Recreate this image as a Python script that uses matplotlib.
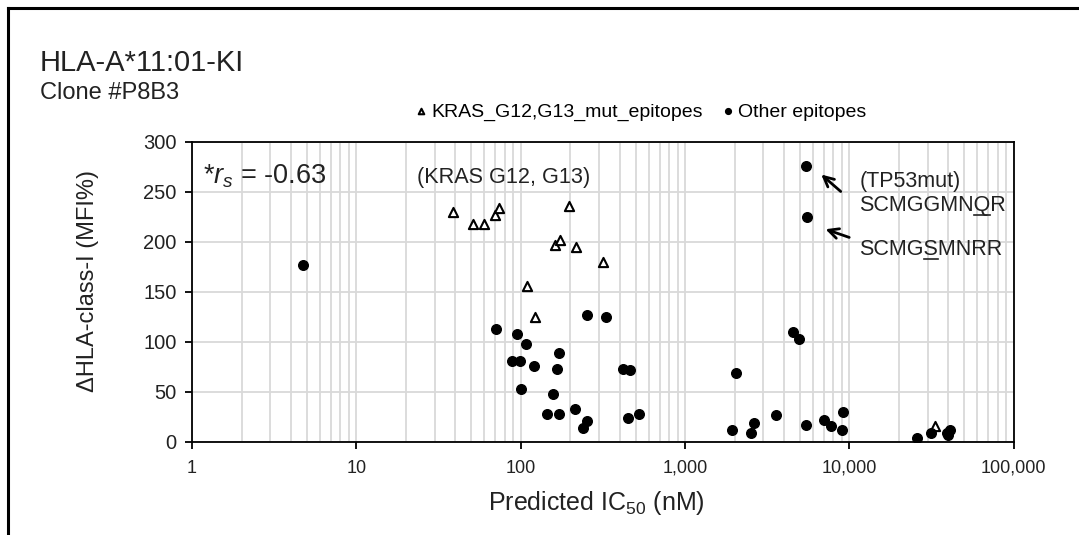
import matplotlib
matplotlib.use("Agg")
import matplotlib.pyplot as plt
import numpy as np
from matplotlib.lines import Line2D
from matplotlib.ticker import FuncFormatter, LogLocator, NullFormatter

# Font setup (Arial-like)
plt.rcParams['font.family'] = ['Liberation Sans', 'DejaVu Sans']
plt.rcParams['mathtext.fontset'] = 'custom'
plt.rcParams['mathtext.rm'] = 'Liberation Sans'
plt.rcParams['mathtext.it'] = 'Liberation Sans:italic'

# Data (IC50 in nM, delta HLA-class-I in MFI%)
kras_ic50 = [38.6, 51.5, 60.1, 69.8, 73.9, 109.4, 122.4, 162.7, 173.8, 198, 216.4, 316, 33270]
kras_mfi = [230, 218, 218, 227, 234, 156, 125, 197, 202, 236, 195, 180, 16]

other_ic50 = [4.76, 70.8, 94.7, 107.9, 89.1, 99.2, 120.7, 170.6, 167.2, 101, 156.8, 144.2,
              171.3, 214.3, 254.8, 238.8, 253.6, 331, 421.8, 463.4, 452.5, 527.6, 2047, 1936,
              2525, 2635, 3570, 4530, 4968, 5458, 7050, 7711, 9204, 8995, 5408, 5560,
              25960, 31330, 39200, 41080, 40000]
other_mfi = [177, 113, 108, 98, 81, 81, 76, 89, 73, 53, 48, 28,
             28, 33, 21, 14, 127, 125, 73, 72, 24, 28, 69, 12,
             9, 19, 27, 110, 103, 17, 22, 16, 30, 12, 276, 225,
             4, 9, 9, 12, 7]

x_ticks = [1, 10, 100, 1000, 10000, 100000]
y_ticks = [0, 50, 100, 150, 200, 250, 300]

fig = plt.figure(figsize=(10.79, 5.35), dpi=100)
ax = fig.add_axes([0.178, 0.1744, 0.7615, 0.5607])

# grid
ax.set_xscale('log')
ax.set_xlim(1, 100000)
ax.set_ylim(0, 300)
ax.xaxis.set_minor_locator(LogLocator(base=10, subs=np.arange(2, 10)))
ax.xaxis.set_minor_formatter(NullFormatter())
ax.grid(True, which='both', axis='x', color='#d9d9d9', lw=1.3)
ax.grid(True, which='major', axis='y', color='#d9d9d9', lw=1.3)
ax.set_axisbelow(True)

ax.set_xticks(x_ticks)
ax.set_yticks(y_ticks)
ax.xaxis.set_major_formatter(FuncFormatter(lambda v, p: f"{int(round(v)):,}"))
ax.tick_params(axis='both', which='major', direction='out', length=5, width=1.3,
               labelsize=13, colors='black', labelcolor='#222222')
ax.tick_params(axis='y', which='major', labelsize=14.5, pad=6)
ax.tick_params(axis='x', which='major', pad=8)
ax.tick_params(axis='x', which='minor', length=0)
for s in ax.spines.values():
    s.set_linewidth(1.3)
    s.set_color('black')

# points
ax.scatter(kras_ic50, kras_mfi, marker='^', s=44, facecolors='white', edgecolors='black',
           linewidths=1.5, zorder=3, label='KRAS_G12,G13_mut_epitopes')
ax.scatter(other_ic50, other_mfi, marker='o', s=48, color='black', zorder=3,
           label='Other epitopes')

ax.set_xlabel('Predicted IC$_{50}$ (nM)', fontsize=18, color='#222222')
ax.set_ylabel('\u0394HLA-class-I (MFI%)', fontsize=17, color='#222222')
ax.xaxis.set_label_coords(0.492, -0.158)
ax.yaxis.set_label_coords(-0.113, 0.537)

# legend above the axes
ax.legend(loc='center left', bbox_to_anchor=(0.386, 0.791), bbox_transform=fig.transFigure,
          ncol=2, frameon=False, fontsize=14, markerscale=0.6, handlelength=0.5,
          handletextpad=0.25, columnspacing=1.05, borderpad=0, borderaxespad=0)

# titles
fig.text(0.0371, 0.868, 'HLA-A*11:01-KI', fontsize=21, color='#222222', va='baseline')
fig.text(0.0371, 0.8144, 'Clone #P8B3', fontsize=17, color='#222222', va='baseline')

# annotations
ax.text(1.167, 258.4, r'*$r_s$ = -0.63', fontsize=19.5, color='#222222', va='baseline')
ax.text(23.4, 258.4, '(KRAS G12, G13)', fontsize=15.6, color='#222222', va='baseline')
ax.text(11480, 255, '(TP53mut)', fontsize=15.5, color='#222222', va='baseline')

ax.annotate('', xy=(6550, 269), xytext=(9124, 248.4),
            arrowprops=dict(arrowstyle='->', color='black', lw=2, mutation_scale=18))
ax.annotate('', xy=(6900, 213.4), xytext=(10350, 203.4),
            arrowprops=dict(arrowstyle='->', color='black', lw=2, mutation_scale=18))


def underlined_text(x, y, text, idx, **kw):
    # draw the text and underline the character at position idx
    ax.text(x, y, text, va='baseline', **kw)
    fig.canvas.draw()
    r = fig.canvas.get_renderer()
    a = ax.text(x, y, text[:idx], va='baseline', **kw)
    b = ax.text(x, y, text[:idx + 1], va='baseline', **kw)
    x0 = a.get_window_extent(r).x1
    x1 = b.get_window_extent(r).x1
    a.remove()
    b.remove()
    yb = ax.transData.transform((x, y))[1] - 4
    p0 = fig.transFigure.inverted().transform((x0, yb))
    p1 = fig.transFigure.inverted().transform((x1, yb))
    fig.add_artist(Line2D([p0[0], p1[0]], [p0[1], p1[1]], transform=fig.transFigure,
                          color='#222222', lw=1.2))


underlined_text(11480, 231, 'SCMGGMNQR', 7, fontsize=15.5, color='#222222')
underlined_text(11480, 186.7, 'SCMGSMNRR', 4, fontsize=15.5, color='#222222')

# outer frame (left and top edges)
fig.add_artist(Line2D([0.0078, 1.0], [0.9855, 0.9855], transform=fig.transFigure, color='black', lw=2.2))
fig.add_artist(Line2D([0.0078, 0.0078], [0.0, 0.9855], transform=fig.transFigure, color='black', lw=2.2))

fig.savefig('out.png', dpi=100)
